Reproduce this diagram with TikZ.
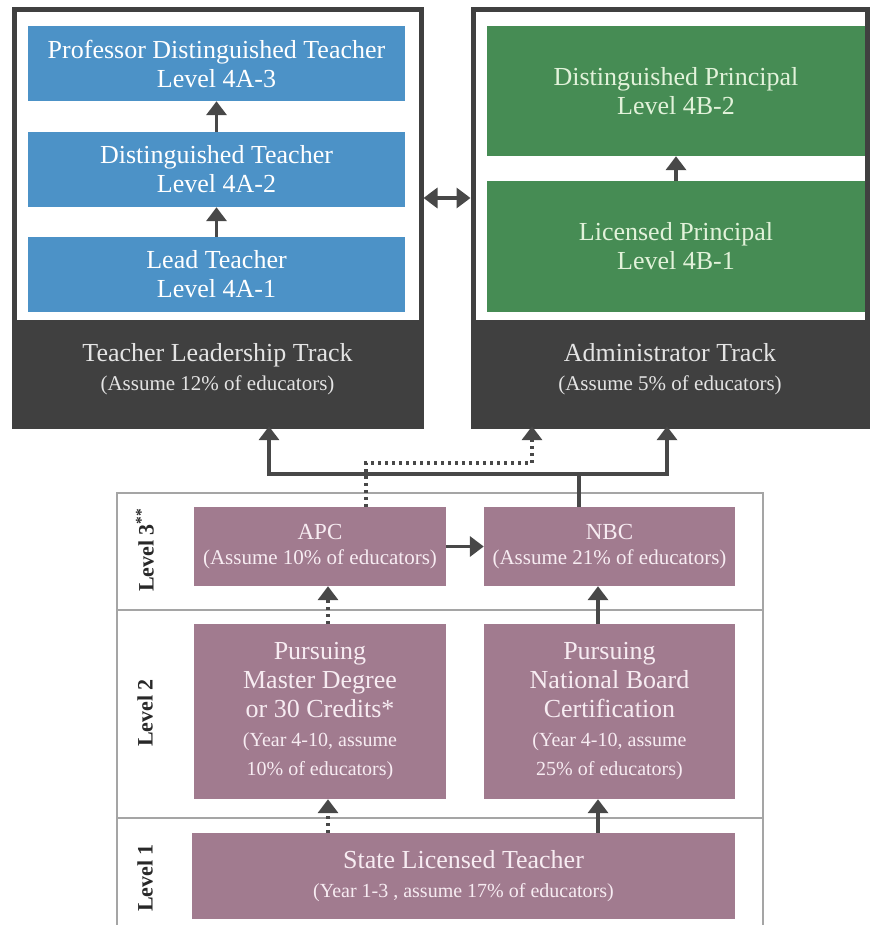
\documentclass[tikz,border=0pt]{standalone}
\usepackage{fontspec}
\setmainfont{Liberation Serif}
\usepackage{tikz}
\usetikzlibrary{arrows.meta}

\definecolor{trackgray}{RGB}{64,64,64}
\definecolor{teachblue}{RGB}{76,146,199}
\definecolor{princgreen}{RGB}{70,140,84}
\definecolor{levelmauve}{RGB}{161,123,143}
\definecolor{framegray}{RGB}{165,165,165}
\definecolor{arrowgray}{RGB}{72,72,72}
\definecolor{labelgray}{RGB}{40,40,40}

\newcommand{\titlesize}{\fontsize{26}{29}\selectfont}
\newcommand{\subsize}{\fontsize{21}{24}\selectfont}
\newcommand{\smallsize}{\fontsize{20}{22}\selectfont}

\begin{document}
\begin{tikzpicture}[x=1pt, y=-1pt, >={Triangle[length=14pt,width=20pt]},
    every node/.style={rectangle, inner sep=0pt, align=center, font=\titlesize},
    trackframe/.style={draw=trackgray, line width=5pt},
    trackbox/.style={fill=trackgray, minimum height=106pt},
    tracktext/.style={text={rgb,255:red,228;green,228;blue,228}},
    teacherbox/.style={fill=teachblue, text=white, minimum width=377pt, minimum height=75pt},
    principalbox/.style={fill=princgreen, text={rgb,255:red,226;green,242;blue,218}, minimum width=378pt, minimum height=130pt},
    levelbox/.style={fill=levelmauve, text={rgb,255:red,247;green,236;blue,242}},
    levellabel/.style={rotate=90, text=labelgray, font=\fontsize{22}{24}\selectfont\bfseries},
    flowline/.style={draw=arrowgray, line width=3.5pt},
    flow/.style={flowline, ->},
    dotflow/.style={flow, dash pattern=on 3pt off 4pt}]
    \useasboundingbox (0,0) rectangle (869,925);

    % upper tracks
    \node[trackframe, minimum width=407pt, minimum height=416pt] (tlframe) at (217.5,218) {};
    \node[trackframe, minimum width=394pt, minimum height=416pt] (adframe) at (670,218) {};
    \node[trackbox, minimum width=407pt] (tltrack) at (217.5,373) {};
    \node[trackbox, minimum width=394pt] (adtrack) at (670,373) {};
    \node[tracktext] (tltext) at ([yshift=4pt]tltrack.center) {Teacher Leadership Track\\ \subsize (Assume 12\% of educators)};
    \node[tracktext] (adtext) at ([yshift=4pt]adtrack.center) {Administrator Track\\ \subsize (Assume 5\% of educators)};

    \node[teacherbox] (prof) at (216.5,63.5) {Professor Distinguished Teacher\\Level 4A-3};
    \node[teacherbox] (dist) at (216.5,169.5) {Distinguished Teacher\\Level 4A-2};
    \node[teacherbox] (lead) at (216.5,274.5) {Lead Teacher\\Level 4A-1};
    \node[principalbox] (dprinc) at (676,91) {Distinguished Principal\\Level 4B-2};
    \node[principalbox] (lprinc) at (676,246.5) {Licensed Principal\\Level 4B-1};

    \draw[flow] (lead) -- (dist);
    \draw[flow] (dist) -- (prof);
    \draw[flow] (lprinc) -- (dprinc);
    \draw[flowline, <->] ([yshift=20pt]tlframe.east) -- ([yshift=20pt]adframe.west);

    % levels
    \draw[framegray, line width=2pt] (117,493) rectangle (763,940);
    \draw[framegray, line width=2pt] (117,610) -- (763,610);
    \draw[framegray, line width=2pt] (117,818) -- (763,818);

    \node[levellabel] (lvthree) at (145,550) {Level 3\textsuperscript{**}};
    \node[levellabel] (lvtwo) at (145,713) {Level 2};
    \node[levellabel] (lvone) at (145,878) {Level 1};

    \node[levelbox, minimum width=252pt, minimum height=79pt, font=\fontsize{23}{25}\selectfont] (apc) at (320,546.5) {APC\\ \subsize (Assume 10\% of educators)};
    \node[levelbox, minimum width=251pt, minimum height=79pt, font=\fontsize{23}{25}\selectfont] (nbc) at (609.5,546.5) {NBC\\ \subsize (Assume 21\% of educators)};
    \node[levelbox, minimum width=252pt, minimum height=175pt] (pmaster) at (320,711.5) {Pursuing\\Master Degree\\or 30 Credits*\\ \smallsize (Year 4-10, assume\\ \smallsize 10\% of educators)};
    \node[levelbox, minimum width=251pt, minimum height=175pt] (pnbc) at (609.5,711.5) {Pursuing\\National Board\\Certification\\ \smallsize (Year 4-10, assume\\ \smallsize 25\% of educators)};
    \node[levelbox, minimum width=543pt, minimum height=86pt] (state) at (463.5,876) {State Licensed Teacher\\ \smallsize (Year 1-3 , assume 17\% of educators)};

    \draw[dotflow] ([xshift=-135.5pt]state.north) -- ([xshift=8pt]pmaster.south);
    \draw[flow] ([xshift=134.5pt]state.north) -- ([xshift=-11.5pt]pnbc.south);
    \draw[dotflow] ([xshift=8pt]pmaster.north) -- ([xshift=8pt]apc.south);
    \draw[flow] ([xshift=-11.5pt]pnbc.north) -- ([xshift=-11.5pt]nbc.south);
    \draw[flow] (apc) -- (nbc);

    % into the tracks
    \coordinate (jn) at (579,474);
    \coordinate (dn) at (532,463);
    \draw[flowline] ([xshift=-30.5pt]nbc.north) -- (jn);
    \draw[flowline, <->] ([xshift=51.5pt]tltrack.south) |- (jn) -| ([xshift=-3pt]adtrack.south);
    \draw[dotflow] ([xshift=46pt]apc.north) |- (dn) -- ([xshift=-138pt]adtrack.south);
\end{tikzpicture}
\end{document}
